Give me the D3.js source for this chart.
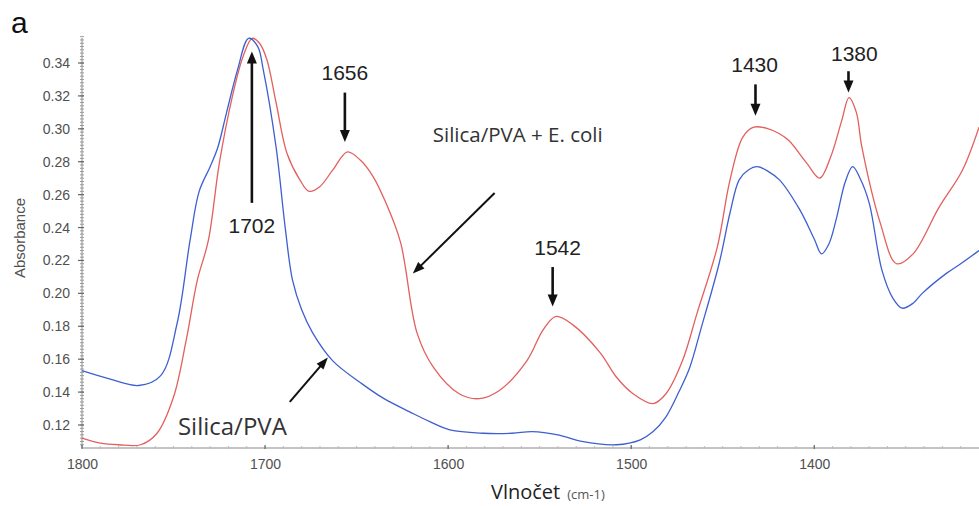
<!DOCTYPE html>
<html><head><meta charset="utf-8">
<script src="https://cdn.jsdelivr.net/npm/d3@7"></script>
<style>
html,body{margin:0;padding:0;background:#fff;}
svg{display:block;}
</style></head>
<body>
<svg id="chart" width="979" height="506"></svg>
<script>
// ---- data ----
const silicaPvaWavenumber = [1800,1785,1769,1757,1748,1741,1736,1730,1726,1721,1715,1709,1704,1701,1694,1689,1685,1680,1674,1663,1647,1635,1621,1610,1599,1581,1565,1554,1540,1527,1508,1495,1488,1481,1474,1468,1462,1452,1446,1441,1436,1431,1425,1419,1408,1400,1396,1392,1388,1383,1379,1375,1370,1363,1357,1352,1346,1341,1328,1320,1310];
const silicaPvaAbsorbance = [0.153,0.148,0.144,0.150,0.182,0.232,0.262,0.277,0.288,0.310,0.336,0.355,0.350,0.336,0.289,0.240,0.208,0.190,0.176,0.159,0.145,0.136,0.128,0.122,0.117,0.115,0.115,0.116,0.114,0.110,0.108,0.111,0.116,0.125,0.140,0.155,0.178,0.218,0.249,0.269,0.275,0.277,0.274,0.269,0.251,0.233,0.224,0.230,0.245,0.268,0.277,0.270,0.255,0.214,0.197,0.191,0.194,0.200,0.212,0.218,0.226];

const ecoliWavenumber = [1800,1790,1780,1768,1759,1750,1743,1737,1731,1725,1718,1712,1707,1703,1699,1694,1688,1681,1676,1670,1663,1655,1648,1641,1634,1626,1617,1608,1594,1583,1572,1557,1548,1541,1532,1517,1508,1499,1488,1481,1472,1464,1453,1446,1439,1433,1425,1419,1414,1404,1397,1391,1385,1381,1377,1374,1364,1355,1346,1332,1319,1310];
const ecoliAbsorbance = [0.112,0.109,0.108,0.108,0.115,0.137,0.172,0.208,0.232,0.279,0.319,0.344,0.355,0.352,0.342,0.316,0.285,0.269,0.262,0.265,0.275,0.286,0.281,0.271,0.255,0.231,0.176,0.155,0.139,0.136,0.141,0.159,0.178,0.186,0.181,0.164,0.149,0.139,0.133,0.139,0.159,0.188,0.228,0.269,0.295,0.301,0.300,0.297,0.293,0.279,0.270,0.283,0.305,0.319,0.310,0.289,0.243,0.218,0.224,0.252,0.275,0.301];

const xTickValues = [1800,1700,1600,1500,1400];
const yTickValues = [0.12,0.14,0.16,0.18,0.20,0.22,0.24,0.26,0.28,0.30,0.32,0.34];
const peakLabels = ["1702","1656","1542","1430","1380"];
const seriesLabels = ["Silica/PVA","Silica/PVA + E. coli"];

// ---- layout ----
const svg = d3.select("#chart");
const x = d3.scaleLinear().domain([1800,1310]).range([82,979]);
const y = d3.scaleLinear().domain([0.34,0.12]).range([63,425]);
const yTop = 38, yBottom = 448;

const axisColor = "#8a8a8a";
const labelColor = "#505050";

// "a"
svg.append("text").attr("x",11).attr("y",33).text("a")
  .attr("font-family","Liberation Sans, Arial, sans-serif").attr("font-size",30).attr("fill","#111");

// y axis
const yAxis = d3.axisLeft(y).tickValues(yTickValues).tickFormat(d3.format(".2f")).tickSize(0).tickPadding(12);
const gy = svg.append("g").attr("transform","translate(82,0)").call(yAxis);
gy.select(".domain").remove();
gy.selectAll("text").attr("font-family","Liberation Sans, Arial, sans-serif").attr("font-size",14).attr("fill",labelColor);
svg.append("line").attr("x1",82).attr("x2",82).attr("y1",yTop).attr("y2",yBottom).attr("stroke",axisColor).attr("stroke-width",1);
const yMinor = d3.range(0.108,0.3561,0.002);
svg.append("g").selectAll("line").data(yMinor).join("line")
  .attr("x1",80).attr("x2",84).attr("y1",d=>y(d)).attr("y2",d=>y(d)).attr("stroke","#9a9a9a").attr("stroke-width",1);
svg.append("g").selectAll("line").data(yTickValues).join("line")
  .attr("x1",78).attr("x2",84).attr("y1",d=>y(d)).attr("y2",d=>y(d)).attr("stroke","#666").attr("stroke-width",1.2);

// x axis
const xAxis = d3.axisBottom(x).tickValues(xTickValues).tickFormat(d3.format("d")).tickSize(0).tickPadding(11);
const gx = svg.append("g").attr("transform",`translate(0,${yBottom})`).call(xAxis);
gx.select(".domain").remove();
gx.selectAll("text").attr("font-family","Liberation Sans, Arial, sans-serif").attr("font-size",14).attr("fill",labelColor);
svg.append("line").attr("x1",82).attr("x2",979).attr("y1",yBottom).attr("y2",yBottom).attr("stroke",axisColor).attr("stroke-width",1.2);
const xMinor = d3.range(1790,1310,-10);
svg.append("g").selectAll("line").data(xMinor).join("line")
  .attr("x1",d=>x(d)).attr("x2",d=>x(d)).attr("y1",yBottom-2).attr("y2",yBottom+1).attr("stroke","#bbb").attr("stroke-width",1);
svg.append("g").selectAll("line").data(xTickValues).join("line")
  .attr("x1",d=>x(d)).attr("x2",d=>x(d)).attr("y1",yBottom-3).attr("y2",yBottom+1).attr("stroke","#666").attr("stroke-width",1.2);

// axis titles
svg.append("text").attr("transform","translate(25,238) rotate(-90)").attr("text-anchor","middle")
  .attr("font-family","Liberation Sans, Arial, sans-serif").attr("font-size",15).attr("fill",labelColor).text("Absorbance");
const xt = svg.append("text").attr("x",491).attr("y",499).attr("font-family","Open Sans, sans-serif").attr("fill","#222");
xt.append("tspan").attr("font-size",20).text("Vlnočet");
xt.append("tspan").attr("font-size",13).attr("fill","#555").attr("dx",7).text("(cm-1)");

// curves
const line = d3.line().x(d=>x(d[0])).y(d=>y(d[1])).curve(d3.curveCatmullRom.alpha(0.5));
const blue = silicaPvaWavenumber.map((w,i)=>[w,silicaPvaAbsorbance[i]]);
const red = ecoliWavenumber.map((w,i)=>[w,ecoliAbsorbance[i]]);
svg.append("path").attr("d",line(red)).attr("fill","none").attr("stroke","#e2605e").attr("stroke-width",1.3);
svg.append("path").attr("d",line(blue)).attr("fill","none").attr("stroke","#3f5fd0").attr("stroke-width",1.3);

// arrows
function arrow(x1,y1,x2,y2,w,head,hw){
  const dx=x2-x1, dy=y2-y1, L=Math.hypot(dx,dy), ux=dx/L, uy=dy/L;
  const bx=x2-ux*head, by=y2-uy*head;
  svg.append("line").attr("x1",x1).attr("y1",y1).attr("x2",bx+ux*1).attr("y2",by+uy*1)
    .attr("stroke","#111").attr("stroke-width",w);
  const px=-uy, py=ux;
  svg.append("path").attr("d",`M${x2},${y2}L${bx+px*hw/2},${by+py*hw/2}L${bx-px*hw/2},${by-py*hw/2}Z`).attr("fill","#111");
}

// peak annotations [label, arrow wavenumber, arrow from, arrow to, label wavenumber, label absorbance]
const peakAnno = [
  [peakLabels[0],1707.2,0.255,0.347,1707.2,0.241],
  [peakLabels[1],1656.4,0.322,0.292,1656.4,0.334],
  [peakLabels[2],1542.9,0.216,0.192,1540.2,0.228],
  [peakLabels[3],1432.1,0.327,0.308,1432.6,0.339],
  [peakLabels[4],1381.3,0.335,0.322,1378.1,0.346]
];
peakAnno.forEach(a=>{
  arrow(x(a[1]),y(a[2]),x(a[1]),y(a[3]),2.6,12,10);
  svg.append("text").attr("x",x(a[4])).attr("y",y(a[5])).attr("text-anchor","middle").attr("dominant-baseline","central")
    .attr("font-family","Liberation Sans, Arial, sans-serif").attr("font-size",21).attr("fill","#222").text(a[0]);
});

// series annotations
arrow(x(1574.6),y(0.261),x(1619.3),y(0.212),2,12,9);
svg.append("text").attr("x",x(1608.4)).attr("y",y(0.292)).attr("font-family","Open Sans, sans-serif").attr("font-size",20.5).attr("fill","#333").text(seriesLabels[1]);
arrow(x(1686.5),y(0.134),x(1665.7),y(0.161),2,12,9);
svg.append("text").attr("x",x(1747.6)).attr("y",y(0.114)).attr("font-family","Open Sans, sans-serif").attr("font-size",24).attr("fill","#333").text(seriesLabels[0]);
</script>
</body></html>
